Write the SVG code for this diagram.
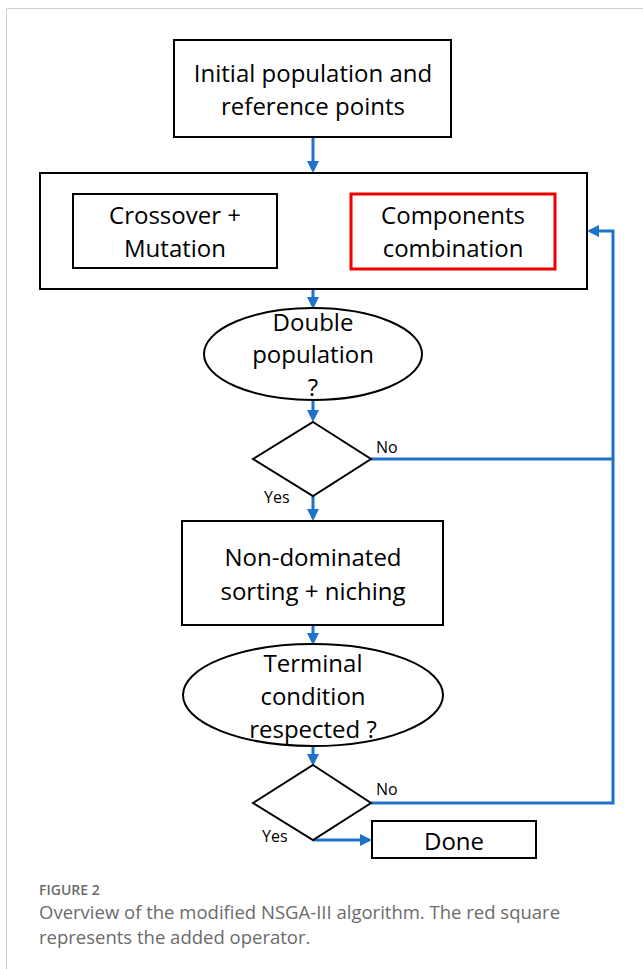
<svg xmlns="http://www.w3.org/2000/svg" width="643" height="969" viewBox="0 0 643 969">
<style>
.box{fill:#fff;stroke:#000;stroke-width:2}
.red{fill:#fff;stroke:#e00;stroke-width:3}
.t{font-family:"Open Sans","Noto Sans",sans-serif;font-size:24px;fill:#000;text-anchor:middle}
.lbl{font-family:"Open Sans","Noto Sans",sans-serif;font-size:16px;fill:#000}
.c{fill:none;stroke:#1f72c9;stroke-width:3}
.cap{font-family:"Open Sans","Noto Sans",sans-serif;fill:#6b6b6b}
</style>
<defs>
<marker id="ah" markerWidth="4" markerHeight="4" refX="3" refY="2" orient="auto" markerUnits="strokeWidth">
<path d="M0,0 L4,2 L0,4 Z" fill="#1f72c9"/>
</marker>
</defs>
<rect width="643" height="969" fill="#fff"/>
<path d="M6.5,969 V8.5 H643" fill="none" stroke="#cfcfcf" stroke-width="1"/>

<g id="connectors">
<path class="c" d="M313,138 V170" marker-end="url(#ah)"/>
<path class="c" d="M313,290 V306" marker-end="url(#ah)"/>
<path class="c" d="M313,400 V419" marker-end="url(#ah)"/>
<path class="c" d="M313,496 V518" marker-end="url(#ah)"/>
<path class="c" d="M313,626 V642" marker-end="url(#ah)"/>
<path class="c" d="M313,747 V763" marker-end="url(#ah)"/>
<path class="c" d="M371,459 H613"/>
<path class="c" d="M371,803 H613 V231 H590" marker-end="url(#ah)"/>
<path class="c" d="M313,840 H369" marker-end="url(#ah)"/>
</g>

<g id="init">
<rect class="box" x="174" y="40" width="277" height="97"/>
<text class="t" x="313" y="82">Initial population and</text>
<text class="t" x="313" y="115">reference points</text>
</g>

<g id="operators">
<rect class="box" x="40" y="173" width="547" height="116"/>
</g>
<g id="crossover">
<rect class="box" x="73" y="194" width="204" height="74"/>
<text class="t" x="175" y="224">Crossover +</text>
<text class="t" x="175" y="257">Mutation</text>
</g>
<g id="components">
<rect class="red" x="351" y="194" width="204" height="75"/>
<text class="t" x="453" y="224">Components</text>
<text class="t" x="453" y="257">combination</text>
</g>

<g id="double">
<ellipse class="box" cx="313" cy="354" rx="109" ry="46"/>
<text class="t" x="313" y="331">Double</text>
<text class="t" x="313" y="363">population</text>
<text class="t" x="313" y="396">?</text>
</g>

<g id="decision1">
<path class="box" d="M313,422 L371,459 L313,496 L253,459 Z"/>
<text class="lbl" x="376" y="453">No</text>
<text class="lbl" x="264" y="503">Yes</text>
</g>

<g id="sorting">
<rect class="box" x="182" y="521" width="261" height="104"/>
<text class="t" x="313" y="566">Non-dominated</text>
<text class="t" x="313" y="600">sorting + niching</text>
</g>

<g id="terminal">
<ellipse class="box" cx="313" cy="695" rx="130" ry="51"/>
<text class="t" x="313" y="672">Terminal</text>
<text class="t" x="313" y="705">condition</text>
<text class="t" x="313" y="738">respected ?</text>
</g>

<g id="decision2">
<path class="box" d="M313,765 L371,803 L313,840 L253,803 Z"/>
<text class="lbl" x="376" y="795">No</text>
<text class="lbl" x="262" y="842">Yes</text>
</g>

<g id="done">
<rect class="box" x="372" y="821" width="164" height="37"/>
<text class="t" x="454" y="850">Done</text>
</g>

<g id="caption">
<text class="cap" x="39" y="895" font-size="14" font-weight="600">FIGURE 2</text>
<text class="cap" x="39" y="919" font-size="18.5">Overview of the modified NSGA-III algorithm. The red square</text>
<text class="cap" x="39" y="944" font-size="18.5">represents the added operator.</text>
</g>
</svg>
